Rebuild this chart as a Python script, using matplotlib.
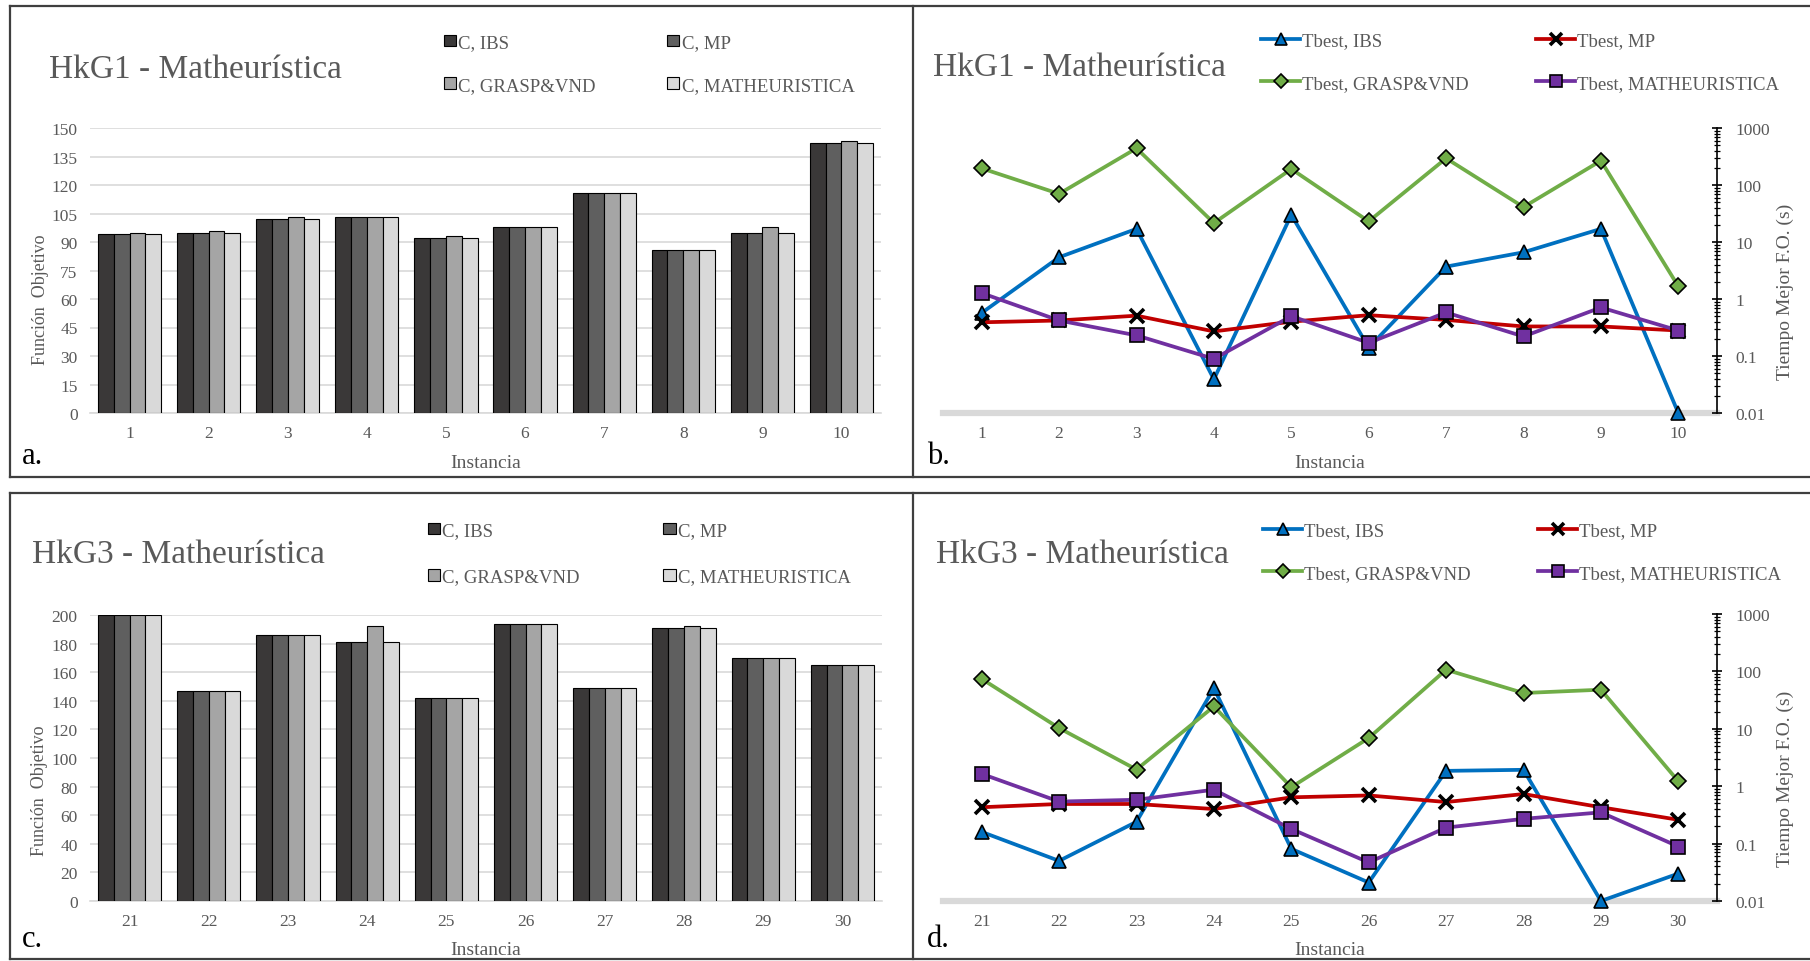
import numpy as np
import matplotlib
matplotlib.use("Agg")
import matplotlib.pyplot as plt
from matplotlib.lines import Line2D
from matplotlib.ticker import FuncFormatter, LogLocator, NullFormatter

plt.rcParams['font.family'] = ['Liberation Serif', 'DejaVu Serif']

# --- data ---
inst_top = [1, 2, 3, 4, 5, 6, 7, 8, 9, 10]
inst_bot = [21, 22, 23, 24, 25, 26, 27, 28, 29, 30]

# objective value (bars)
c_ibs_1 = [94, 95, 102, 103, 92, 98, 116, 86, 95, 142]
c_mp_1 = [94, 95, 102, 103, 92, 98, 116, 86, 95, 142]
c_grasp_1 = [95, 96, 103, 103, 93, 98, 116, 86, 98, 143]
c_mat_1 = [94, 95, 102, 103, 92, 98, 116, 86, 95, 142]

c_ibs_3 = [200, 147, 186, 181, 142, 194, 149, 191, 170, 165]
c_mp_3 = [200, 147, 186, 181, 142, 194, 149, 191, 170, 165]
c_grasp_3 = [200, 147, 186, 192, 142, 194, 149, 192, 170, 165]
c_mat_3 = [200, 147, 186, 181, 142, 194, 149, 191, 170, 165]

# time to best solution (log lines)
t_ibs_1 = [0.57, 5.4, 17, 0.039, 30, 0.14, 3.7, 6.6, 17, 0.01]
t_mp_1 = [0.39, 0.42, 0.51, 0.27, 0.40, 0.52, 0.43, 0.33, 0.33, 0.28]
t_grasp_1 = [196, 70, 440, 21.5, 191, 23, 294, 41, 267, 1.67]
t_mat_1 = [1.27, 0.42, 0.23, 0.089, 0.50, 0.17, 0.58, 0.22, 0.71, 0.28]

t_ibs_3 = [0.16, 0.05, 0.24, 51, 0.081, 0.021, 1.85, 1.93, 0.01, 0.030]
t_mp_3 = [0.43, 0.49, 0.49, 0.40, 0.64, 0.69, 0.53, 0.73, 0.43, 0.26]
t_grasp_3 = [74, 10.3, 1.95, 24.5, 0.96, 6.9, 107, 42, 48, 1.22]
t_mat_3 = [1.64, 0.54, 0.58, 0.87, 0.18, 0.047, 0.19, 0.27, 0.35, 0.089]

bar_names = ["C, IBS", "C, MP", "C, GRASP&VND", "C, MATHEURISTICA"]
bar_colors = ["#3a3838", "#5f5f5f", "#a5a5a5", "#d9d9d9"]
line_names = ["Tbest, IBS", "Tbest, MP", "Tbest, GRASP&VND", "Tbest, MATHEURISTICA"]

W, H = 1810, 962
GRAY = "#595959"
fig = plt.figure(figsize=(W / 100, H / 100), dpi=100)


def rect(x0, y0, x1, y1):
    return [x0 / W, 1 - y1 / H, (x1 - x0) / W, (y1 - y0) / H]


def ftext(x, y, s, **kw):
    fig.text(x / W, 1 - y / H, s, **kw)


def bar_panel(box, inst, series, ymax, ystep, title, tpos, letter, lpos, leg, ylab_y):
    ax = fig.add_axes(rect(*box))
    x = np.arange(len(inst))
    w = 0.2
    hs = []
    for k, vals in enumerate(series):
        b = ax.bar(x + (k - 1.5) * w, vals, w, color=bar_colors[k],
                   edgecolor="black", lw=0.8, zorder=3, label=bar_names[k])
        hs.append(b)
    ax.set_xlim(-0.5, len(inst) - 0.5)
    ax.set_ylim(0, ymax)
    ax.set_yticks(np.arange(0, ymax + 1, ystep))
    ax.set_xticks(x, [str(i) for i in inst])
    ax.grid(axis="y", color="#d9d9d9", lw=1.2, zorder=0)
    for s in ["left", "right", "top"]:
        ax.spines[s].set_visible(False)
    ax.spines["bottom"].set_color("#d9d9d9")
    ax.spines["bottom"].set_linewidth(1.2)
    ax.tick_params(axis="y", length=0, labelsize=12.5, labelcolor=GRAY, pad=9)
    ax.tick_params(axis="x", length=0, labelsize=12.5, labelcolor=GRAY, pad=9)
    ax.set_xlabel("Instancia", fontsize=14, color=GRAY)
    ax.xaxis.set_label_coords(0.5, -49 / (box[3] - box[1]))
    ax.xaxis.label.set_va("center")
    ax.set_ylabel("Función  Objetivo", fontsize=13, color=GRAY)
    ax.yaxis.set_label_coords(-50 / (box[2] - box[0]), ylab_y)
    ax.yaxis.label.set_va("center")
    order = [0, 2, 1, 3]
    ax.legend([hs[i] for i in order], [bar_names[i] for i in order], ncol=2,
              loc="center left", bbox_to_anchor=(leg[0] / W, 1 - leg[1] / H),
              bbox_transform=fig.transFigure, frameon=False, borderpad=0,
              borderaxespad=0, handlelength=0.65, handleheight=0.55,
              handletextpad=0.12, columnspacing=leg[2], labelspacing=leg[3],
              fontsize=13.5, labelcolor=GRAY)
    ftext(tpos[0], tpos[1], title, fontsize=24, color=GRAY, va="center")
    ftext(lpos[0], lpos[1], letter, fontsize=22, color="black", va="center")


def line_panel(box, inst, series, title, tpos, letter, lpos, leg):
    ax = fig.add_axes(rect(*box))
    x = np.arange(len(inst))
    ax.set_yscale("log")
    ax.set_ylim(0.01, 1000)
    ax.set_xlim(-0.5, len(inst) - 0.5)
    ax.axhline(0.01, color="#d9d9d9", lw=4.5, zorder=1, clip_on=False)
    styles = [
        dict(color="#0070c0", marker="^", ms=10.5, mfc="#0070c0", mec="black", mew=1.2),
        dict(color="#c00000", marker="x", ms=10, mfc="black", mec="black", mew=2.6),
        dict(color="#70ad47", marker="D", ms=8, mfc="#70ad47", mec="black", mew=1.2),
        dict(color="#7030a0", marker="s", ms=9.5, mfc="#7030a0", mec="black", mew=1.2),
    ]
    hs = []
    for k, vals in enumerate(series):
        h, = ax.plot(x, vals, lw=2.7, zorder=3 + k, clip_on=False,
                     label=line_names[k], **styles[k])
        hs.append(h)
    for s in ["left", "top", "bottom"]:
        ax.spines[s].set_visible(False)
    ax.spines["right"].set_color("black")
    ax.spines["right"].set_linewidth(1.2)
    ax.yaxis.tick_right()
    ax.yaxis.set_label_position("right")
    ax.yaxis.set_major_locator(LogLocator(base=10, numticks=10))
    ax.yaxis.set_minor_locator(LogLocator(base=10, subs=np.arange(2, 10), numticks=20))
    ax.yaxis.set_major_formatter(FuncFormatter(lambda v, p: "{:g}".format(v)))
    ax.yaxis.set_minor_formatter(NullFormatter())
    ax.tick_params(axis="y", which="major", direction="inout", length=7, width=1.2,
                   labelsize=12.5, labelcolor=GRAY, pad=10)
    ax.tick_params(axis="y", which="minor", direction="inout", length=4, width=0.9)
    ax.set_xticks(x, [str(i) for i in inst])
    ax.tick_params(axis="x", length=0, labelsize=12.5, labelcolor=GRAY, pad=9)
    ax.set_xlabel("Instancia", fontsize=14, color=GRAY)
    ax.xaxis.set_label_coords(0.5, -49 / (box[3] - box[1]))
    ax.xaxis.label.set_va("center")
    ax.set_ylabel("Tiempo Mejor F.O. (s)", fontsize=14, color=GRAY)
    ax.yaxis.set_label_coords(1.088, 0.43)
    ax.yaxis.label.set_va("center")
    order = [0, 2, 1, 3]
    ax.legend([hs[i] for i in order], [line_names[i] for i in order], ncol=2,
              loc="center left", bbox_to_anchor=(leg[0] / W, 1 - leg[1] / H),
              bbox_transform=fig.transFigure, frameon=False, borderpad=0,
              borderaxespad=0, handlelength=2.08, handletextpad=0.1,
              columnspacing=leg[2], labelspacing=leg[3], markerscale=0.85,
              fontsize=13.5, labelcolor=GRAY)
    ftext(tpos[0], tpos[1], title, fontsize=24, color=GRAY, va="center")
    ftext(lpos[0], lpos[1], letter, fontsize=22, color="black", va="center")


bar_panel((90, 129, 881, 414), inst_top, [c_ibs_1, c_mp_1, c_grasp_1, c_mat_1],
          150, 15, "HkG1 - Matheurística", (49, 70), "a.", (22, 457),
          (444, 65, 3.8, 1.35), 0.40)
bar_panel((90, 616, 882, 902), inst_bot, [c_ibs_3, c_mp_3, c_grasp_3, c_mat_3],
          200, 20, "HkG3 - Matheurística", (32, 555), "c.", (22, 940),
          (428, 555, 4.45, 1.55), 0.39)
line_panel((943, 129, 1717, 414), inst_top, [t_ibs_1, t_mp_1, t_grasp_1, t_mat_1],
           "HkG1 - Matheurística", (933, 68), "b.", (927, 457),
           (1261, 63, 3.6, 1.35))
line_panel((943, 615, 1717, 902), inst_bot, [t_ibs_3, t_mp_3, t_grasp_3, t_mat_3],
           "HkG3 - Matheurística", (936, 555), "d.", (927, 940),
           (1263, 553, 3.6, 1.37))

# panel frames
BC = "#3f3f3f"


def fline(xs, ys):
    fig.add_artist(Line2D([v / W for v in xs], [1 - v / H for v in ys], color=BC, lw=1.6))


fline([10, 1810], [7, 7])
fline([10, 1810], [478, 478])
fline([10, 1810], [494, 494])
fline([10, 1810], [960, 960])
fline([10, 10], [7, 478])
fline([10, 10], [494, 960])
fline([913, 913], [7, 478])
fline([913, 913], [494, 960])

fig.savefig("out.png", dpi=100)
